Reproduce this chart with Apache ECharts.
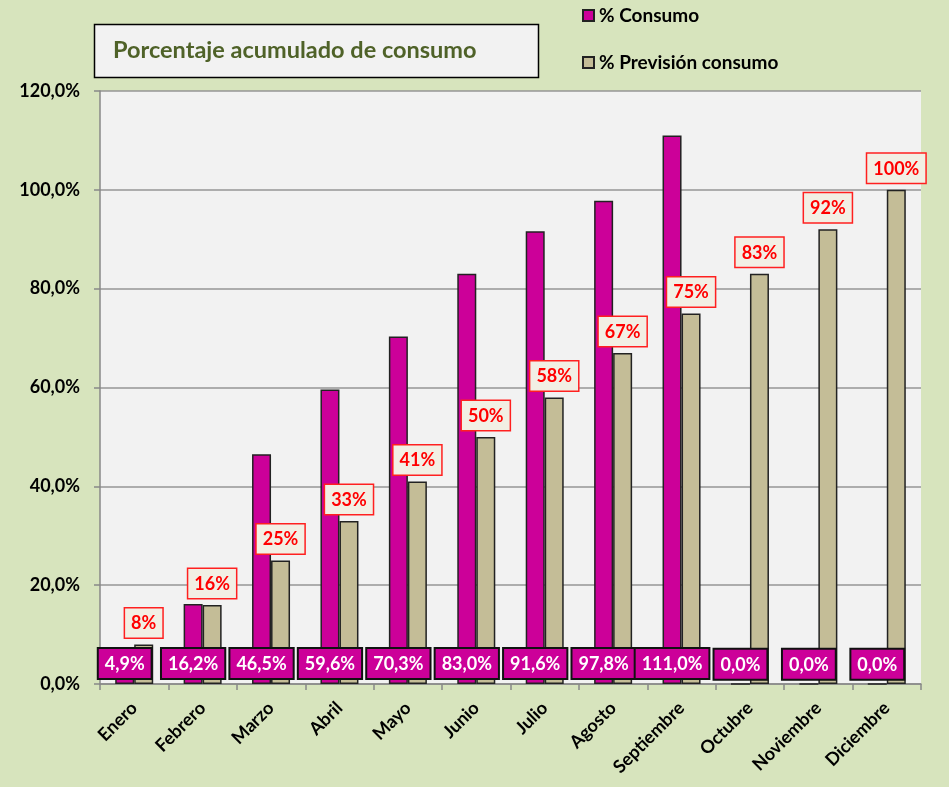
<!DOCTYPE html>
<html>
<head>
<meta charset="utf-8">
<script src="https://cdn.jsdelivr.net/npm/echarts@6/dist/echarts.min.js"></script>
<style>
html,body{margin:0;padding:0;background:#d7e4bd;}
#chart{width:949px;height:787px;}
</style>
</head>
<body>
<div id="chart"></div>
<script>
var months = ['Enero','Febrero','Marzo','Abril','Mayo','Junio','Julio','Agosto','Septiembre','Octubre','Noviembre','Diciembre'];
var consumo = [4.9, 16.2, 46.5, 59.6, 70.3, 83.0, 91.6, 97.8, 111.0, 0, 0, 0];
var prevision = [8, 16, 25, 33, 41, 50, 58, 67, 75, 83, 92, 100];
var yTicks = [0, 20, 40, 60, 80, 100, 120];

var FONT = 'Lato, "Open Sans", sans-serif';
var chart = echarts.init(document.getElementById('chart'), null, {renderer:'canvas'});

function fmtComma(v, d){ return v.toFixed(d).replace('.', ','); }

var option = {
  backgroundColor: '#d7e4bd',
  animation: false,
  title: {
    text: 'Porcentaje acumulado de consumo',
    left: 108, top: 33,
    textStyle: {color:'#4f6228', fontFamily: FONT, fontWeight:'bold', fontSize: 23.5}
  },
  graphic: [{
    type:'rect', z: 0,
    shape:{x:94.5, y:24.5, width:444, height:53},
    style:{fill:'#f2f2f2', stroke:'#000', lineWidth:1.5}
  }],
  legend: {
    orient: 'vertical',
    left: 577, top: 1,
    itemWidth: 11, itemHeight: 11, itemGap: 28,
    icon: 'rect',
    textStyle: {color:'#000', fontFamily: FONT, fontWeight:'bold', fontSize: 19},
    data: ['% Consumo', '% Previsión consumo']
  },
  grid: {
    left: 100, right: 28, top: 91, bottom: 103,
    show: true, backgroundColor: '#f2f2f2', borderWidth: 0,
    containLabel: false
  },
  xAxis: {
    type: 'category',
    data: months,
    boundaryGap: true,
    axisLine: {lineStyle:{color:'#888', width:1.5}},
    axisTick: {show:true, alignWithLabel:false, length:6, lineStyle:{color:'#888', width:1.5}},
    axisLabel: {
      rotate: 45, interval: 0, margin: 21,
      color:'#000', fontFamily: FONT, fontWeight:'bold', fontSize: 18
    }
  },
  yAxis: {
    type: 'value',
    min: 0, max: 120, interval: 20,
    axisLine: {show:true, lineStyle:{color:'#888', width:1.5}},
    axisTick: {show:true, length:6, lineStyle:{color:'#888', width:1.5}},
    splitLine: {show:true, lineStyle:{color:'#969696', width:1.5}},
    axisLabel: {
      margin: 20,
      color:'#000', fontFamily: FONT, fontWeight:'bold', fontSize: 18,
      formatter: function(v){ return yTicks.indexOf(v) >= 0 ? fmtComma(v,1) + '%' : ''; }
    }
  },
  series: [
    {
      name: '% Consumo',
      type: 'bar',
      data: consumo,
      barWidth: 19,
      barGap: '0%',
      itemStyle: {color:'#cc0099', borderColor:'#222', borderWidth:1.5},
      label: {
        show: true,
        position: 'insideBottom',
        distance: 6,
        formatter: function(p){ return fmtComma(p.value,1) + '%'; },
        color:'#fff', fontFamily: FONT, fontWeight:'bold', fontSize: 18,
        backgroundColor:'#cc0099', borderColor:'#111', borderWidth:2,
        padding:[6,6,5,6]
      }
    },
    {
      name: '% Previsión consumo',
      type: 'bar',
      data: prevision,
      barWidth: 19,
      itemStyle: {color:'#c4bd97', borderColor:'#222', borderWidth:1.5},
      label: {
        show: true,
        position: 'top',
        distance: 7,
        formatter: function(p){ return p.value + '%'; },
        color:'#ff0000', fontFamily: FONT, fontWeight:'bold', fontSize: 18,
        backgroundColor:'#f2efe4', borderColor:'#ff2020', borderWidth:1.5,
        padding:[6,6,5,6]
      }
    }
  ]
};
chart.setOption(option);
</script>
</body>
</html>
